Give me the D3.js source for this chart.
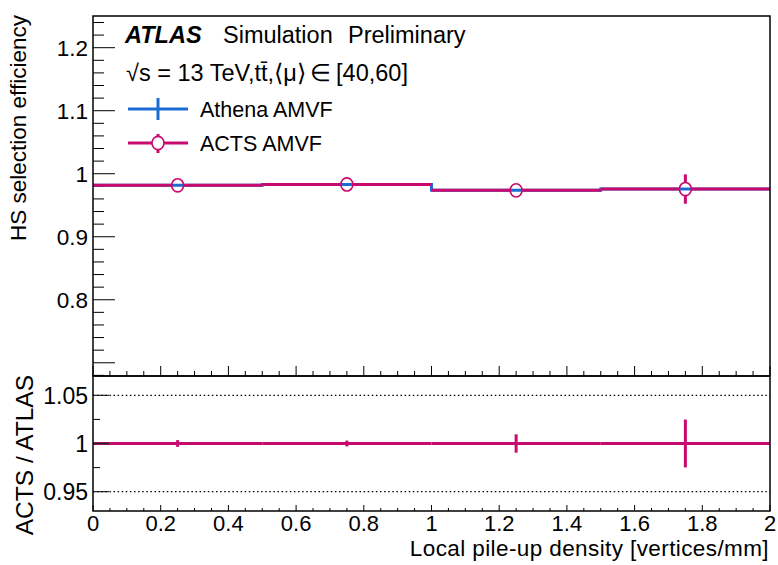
<!DOCTYPE html>
<html><head><meta charset="utf-8">
<script src="https://cdn.jsdelivr.net/npm/d3@7"></script>
<style>body{margin:0;background:#fff}svg{display:block;font-family:"Liberation Sans",Arial,Helvetica,sans-serif}</style>
</head><body><svg id="c" width="778" height="565"></svg>
<script>
// ---- data ----
const binEdges = [0, 0.5, 1.0, 1.5, 2.0];
const binCenters = [0.25, 0.75, 1.25, 1.75];
const athenaEff = [0.9816, 0.9830, 0.9736, 0.9757];
const actsEff = [0.9816, 0.9830, 0.9736, 0.9757];
const actsErr = [0.0034, 0.0030, 0.0090, 0.0233];
const ratioVals = [1, 1, 1, 1];
const ratioErr = [0.0035, 0.0030, 0.0095, 0.0248];
const xTicks = [0, 0.2, 0.4, 0.6, 0.8, 1, 1.2, 1.4, 1.6, 1.8, 2];
const yTicksMain = [0.7, 0.8, 0.9, 1.0, 1.1, 1.2];
const yTickLabelsMain = ["", "0.8", "0.9", "1", "1.1", "1.2"];
const yTicksRatio = [0.95, 1.0, 1.05];
const yTickLabelsRatio = ["0.95", "1", "1.05"];
const refLines = [0.95, 1.05];
const seriesNames = ["Athena AMVF", "ACTS AMVF"];

const blue = "#1a6cd2", mag = "#c80a6e";
const svg = d3.select("#c");
const L = 93, R = 770, T = 16, M = 376, B = 511;
const x = d3.scaleLinear().domain([0, 2]).range([L, R]);
const y = d3.scaleLinear().domain([0.679, 1.2503]).range([M, T]);
const yr = d3.scaleLinear().domain([0.93, 1.07]).range([B, M]);

function range(a, b, s) { const o = []; for (let v = a; v <= b + 1e-9; v += s) o.push(+v.toFixed(4)); return o; }

// --- main panel y ticks ---
range(0.68, 1.25, 0.02).forEach(v => {
  const isMaj = Math.abs(v * 10 - Math.round(v * 10)) < 1e-6;
  if (y(v) < T - 0.5 || y(v) > M + 0.5) return;
  svg.append("line").attr("x1", L).attr("x2", L + (isMaj ? 22 : 11)).attr("y1", y(v)).attr("y2", y(v)).attr("stroke", "#000").attr("stroke-width", 1);
});
yTicksMain.forEach((v, i) => {
  svg.append("text").attr("x", 88).attr("y", y(v)).attr("dy", "0.36em").attr("text-anchor", "end").attr("font-size", 22.5).text(yTickLabelsMain[i]);
});
range(0, 2, 0.05).forEach(v => {
  const isMaj = Math.abs(v * 5 - Math.round(v * 5)) < 1e-6;
  svg.append("line").attr("x1", x(v)).attr("x2", x(v)).attr("y1", M).attr("y2", M - (isMaj ? 10 : 5)).attr("stroke", "#000");
});

// --- ratio panel ticks ---
range(0.925, 1.075, 0.025).forEach(v => {
  if (yr(v) < M || yr(v) > B) return;
  const isMaj = Math.abs(v * 20 - Math.round(v * 20)) < 1e-6;
  svg.append("line").attr("x1", L).attr("x2", L + (isMaj ? 16 : 7)).attr("y1", yr(v)).attr("y2", yr(v)).attr("stroke", "#000");
});
yTicksRatio.forEach((v, i) => {
  svg.append("text").attr("x", 88).attr("y", yr(v)).attr("dy", "0.36em").attr("text-anchor", "end").attr("font-size", 23).text(yTickLabelsRatio[i]);
});
range(0, 2, 0.05).forEach(v => {
  const isMaj = Math.abs(v * 5 - Math.round(v * 5)) < 1e-6;
  svg.append("line").attr("x1", x(v)).attr("x2", x(v)).attr("y1", B).attr("y2", B - (isMaj ? 6 : 3)).attr("stroke", "#000");
});
xTicks.forEach(v => {
  svg.append("text").attr("x", x(v)).attr("y", 531).attr("text-anchor", "middle").attr("font-size", 22).text(d3.format("~g")(v));
});

refLines.forEach(v => {
  svg.append("line").attr("x1", L).attr("x2", R).attr("y1", yr(v)).attr("y2", yr(v)).attr("stroke", "#000").attr("stroke-width", 1.2).attr("stroke-dasharray", "1.5,2.6");
});

// --- Athena step histogram ---
const stepData = [];
athenaEff.forEach((v, i) => { stepData.push([binEdges[i], v]); stepData.push([binEdges[i + 1], v]); });
svg.append("path").attr("d", d3.line().x(d => x(d[0])).y(d => y(d[1]))(stepData))
  .attr("fill", "none").attr("stroke", blue).attr("stroke-width", 3);

// --- ACTS markers ---
const r = 6;
actsEff.forEach((v, i) => {
  const cx = x(binCenters[i]), cy = y(v);
  const g = svg.append("g").attr("stroke", mag).attr("stroke-width", 3).attr("fill", "none");
  g.append("line").attr("x1", x(binEdges[i])).attr("x2", cx - r).attr("y1", cy).attr("y2", cy);
  g.append("line").attr("x1", cx + r).attr("x2", x(binEdges[i + 1])).attr("y1", cy).attr("y2", cy);
  if (y(v - actsErr[i]) - cy > r) {
    g.append("line").attr("x1", cx).attr("x2", cx).attr("y1", cy - r).attr("y2", y(v + actsErr[i]));
    g.append("line").attr("x1", cx).attr("x2", cx).attr("y1", cy + r).attr("y2", y(v - actsErr[i]));
  }
  g.append("ellipse").attr("cx", cx).attr("cy", cy).attr("rx", r).attr("ry", r + 0.6).attr("stroke-width", 1.6);
});

// --- ratio ---
ratioVals.forEach((v, i) => {
  const g = svg.append("g").attr("stroke", mag).attr("stroke-width", 3);
  g.append("line").attr("x1", x(binEdges[i])).attr("x2", x(binEdges[i + 1])).attr("y1", yr(v)).attr("y2", yr(v));
  g.append("line").attr("x1", x(binCenters[i])).attr("x2", x(binCenters[i])).attr("y1", yr(v + ratioErr[i])).attr("y2", yr(v - ratioErr[i]));
});
svg.append("line").attr("x1", L).attr("x2", L + 16).attr("y1", yr(1)).attr("y2", yr(1)).attr("stroke", "#222").attr("stroke-width", 1.5);

// frames
svg.append("rect").attr("x", L).attr("y", T).attr("width", R - L).attr("height", M - T).attr("fill", "none").attr("stroke", "#000").attr("stroke-width", 1.5);
svg.append("rect").attr("x", L).attr("y", M).attr("width", R - L).attr("height", B - M).attr("fill", "none").attr("stroke", "#000").attr("stroke-width", 1.5);

// axis titles
svg.append("text").attr("x", R - 1).attr("y", 556).attr("text-anchor", "end").attr("font-size", 22.5).attr("letter-spacing", 0.4).text("Local pile-up density [vertices/mm]");
svg.append("text").attr("transform", "translate(26," + (T - 1) + ") rotate(-90)").attr("text-anchor", "end").attr("font-size", 22.5).text("HS selection efficiency");
svg.append("text").attr("transform", "translate(33," + (M - 1) + ") rotate(-90)").attr("text-anchor", "end").attr("font-size", 24.5).text("ACTS / ATLAS");

// ATLAS label
const t1 = svg.append("text").attr("x", 125).attr("y", 43).attr("font-size", 23.5);
t1.append("tspan").attr("font-weight", "bold").attr("font-style", "italic").text("ATLAS");
t1.append("tspan").attr("x", 223).text("Simulation");
t1.append("tspan").attr("x", 348).text("Preliminary");
const t2 = svg.append("text").attr("x", 126).attr("y", 81).attr("font-size", 23.5);
t2.append("tspan").text("\u221As = 13 TeV,t");
t2.append("tspan").text("t\u0304");
t2.append("tspan").text(",\u27E8\u03BC\u27E9\u2009\u2208\u2009[40,60]");

// legend
const lg = svg.append("g");
lg.append("line").attr("x1", 128).attr("x2", 188).attr("y1", 109).attr("y2", 109).attr("stroke", blue).attr("stroke-width", 3);
lg.append("line").attr("x1", 158).attr("x2", 158).attr("y1", 98).attr("y2", 120).attr("stroke", blue).attr("stroke-width", 3);
lg.append("text").attr("x", 200).attr("y", 117).attr("font-size", 21.5).text(seriesNames[0]);
lg.append("line").attr("x1", 128).attr("x2", 152).attr("y1", 143).attr("y2", 143).attr("stroke", mag).attr("stroke-width", 3);
lg.append("line").attr("x1", 164).attr("x2", 188).attr("y1", 143).attr("y2", 143).attr("stroke", mag).attr("stroke-width", 3);
lg.append("line").attr("x1", 158).attr("x2", 158).attr("y1", 134).attr("y2", 137).attr("stroke", mag).attr("stroke-width", 3);
lg.append("line").attr("x1", 158).attr("x2", 158).attr("y1", 149).attr("y2", 153).attr("stroke", mag).attr("stroke-width", 3);
lg.append("ellipse").attr("cx", 158).attr("cy", 143).attr("rx", r).attr("ry", r + 0.6).attr("fill", "none").attr("stroke", mag).attr("stroke-width", 1.6);
lg.append("text").attr("x", 200).attr("y", 151).attr("font-size", 21.5).text(seriesNames[1]);
</script></body></html>
